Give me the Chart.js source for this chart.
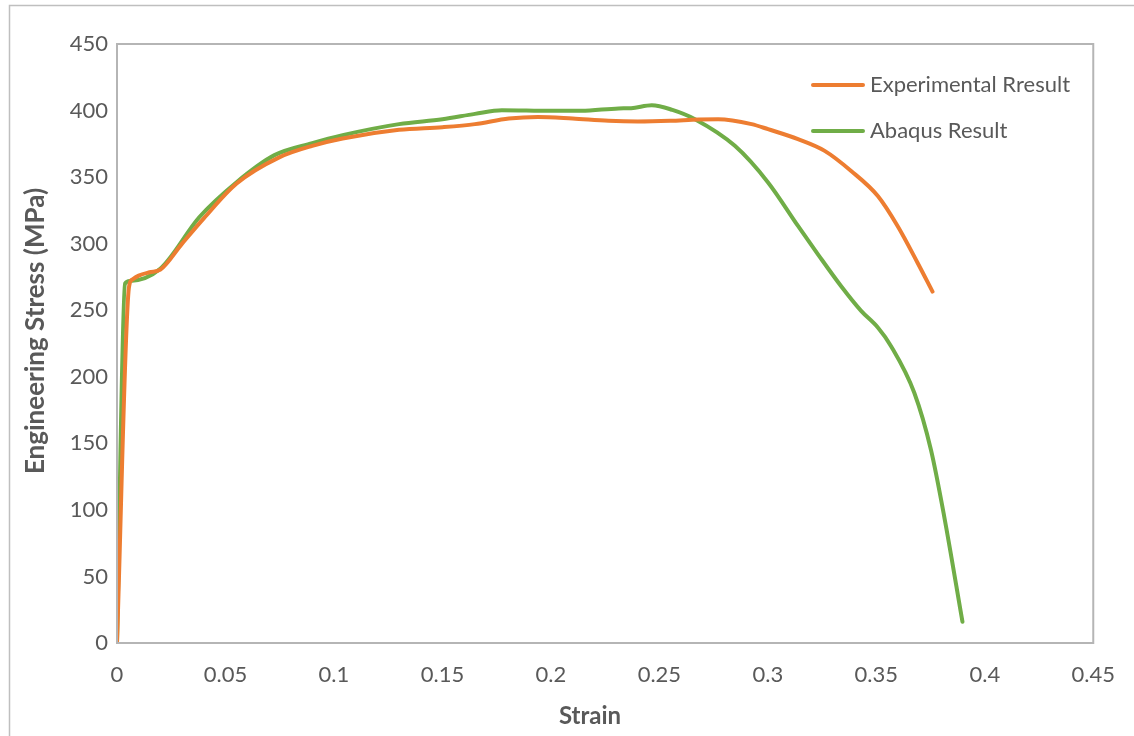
<!DOCTYPE html>
<html>
<head>
<meta charset="utf-8">
<title>Engineering stress-strain curves</title>
<script src="https://cdn.jsdelivr.net/npm/chart.js@4.4.1/dist/chart.umd.min.js"></script>
<style>
  html, body { margin: 0; padding: 0; background: #ffffff; }
  #wrap { width: 1134px; height: 736px; position: relative; }
</style>
</head>
<body>
<div id="wrap"><canvas id="chart" width="1134" height="736"></canvas></div>
<script>
// Experimental tensile test (strain, MPa)
const expStrain = [0, 0.0055, 0.007, 0.010, 0.015, 0.020, 0.030, 0.040, 0.055, 0.075, 0.090, 0.104, 0.130, 0.150, 0.165, 0.1806, 0.194, 0.210, 0.2266, 0.240, 0.255, 0.268, 0.2771, 0.2925, 0.3001, 0.3139, 0.3262, 0.3384, 0.3507, 0.3598, 0.369, 0.3759];
const expStress = [0, 267, 273, 276, 278.5, 280.5, 300, 319, 345, 365, 373.5, 379, 385.5, 387.5, 389.8, 394, 395.2, 394, 392.3, 391.8, 392.3, 393.3, 393.5, 389.8, 386, 378.5, 369.7, 354.6, 335.8, 313.3, 285.7, 264];

// Abaqus simulation (strain, MPa)
const abqStrain = [0, 0.0037, 0.006, 0.0198, 0.038, 0.055, 0.0726, 0.090, 0.104, 0.130, 0.150, 0.165, 0.1774, 0.200, 0.214, 0.2312, 0.237, 0.2465, 0.256, 0.2664, 0.2848, 0.3001, 0.3139, 0.3231, 0.3338, 0.343, 0.3507, 0.3568, 0.3675, 0.3752, 0.3813, 0.3897];
const abqStress = [0, 270, 272, 281, 320, 346, 366.5, 375.5, 381.5, 389.8, 393.5, 397.5, 400.3, 399.8, 399.8, 401.6, 401.8, 404, 400.5, 393.5, 373.5, 346, 313.3, 292, 268, 249.5, 237, 223, 188, 145, 95, 16];

const seriesNames = ['Experimental Rresult', 'Abaqus Result'];
const seriesColors = ['#ED7D31', '#70AD47'];

const xTickLabels = ['0', '0.05', '0.1', '0.15', '0.2', '0.25', '0.3', '0.35', '0.4', '0.45'];
const yTickLabels = ['0', '50', '100', '150', '200', '250', '300', '350', '400', '450'];

const xTitle = 'Strain';
const yTitle = 'Engineering Stress (MPa)';

const FONT = 'Lato, "Open Sans", sans-serif';
const TEXT = '#595959';
const FRAME = '#b5b5b5';

function pairs(xs, ys) {
  return xs.map((x, i) => ({ x: x, y: ys[i] }));
}

// Outer frame, plot box, axis titles and the in-plot legend
const decorations = {
  id: 'decorations',
  beforeDraw(chart) {
    const c = chart.ctx;
    c.save();
    c.fillStyle = '#ffffff';
    c.fillRect(0, 0, chart.width, chart.height);
    c.strokeStyle = '#bfbfbf';
    c.lineWidth = 1.5;
    c.beginPath();
    c.moveTo(9.5, chart.height);
    c.lineTo(9.5, 5.5);
    c.lineTo(chart.width, 5.5);
    c.stroke();
    c.restore();
  },
  afterDatasetsDraw(chart) {
    const c = chart.ctx;
    const a = chart.chartArea;
    c.save();
    c.strokeStyle = FRAME;
    c.lineWidth = 2;
    c.strokeRect(a.left, a.top, a.right - a.left, a.bottom - a.top);

    // axis titles
    c.fillStyle = TEXT;
    c.textAlign = 'center';
    c.textBaseline = 'middle';
    c.font = 'bold 24px ' + FONT;
    c.fillText(xTitle, 590, 716);
    c.font = 'bold 26px ' + FONT;
    c.translate(36, 331);
    c.rotate(-Math.PI / 2);
    c.fillText(yTitle, 0, 0);
    c.restore();

    // legend
    c.save();
    c.font = '22px ' + FONT;
    c.textAlign = 'left';
    c.textBaseline = 'middle';
    const rows = [85, 131];
    chart.data.datasets.forEach((ds, i) => {
      const y = rows[i];
      c.strokeStyle = ds.borderColor;
      c.lineWidth = 4;
      c.lineCap = 'round';
      c.beginPath();
      c.moveTo(813, y);
      c.lineTo(863, y);
      c.stroke();
      c.fillStyle = TEXT;
      c.fillText(ds.label, 870, y);
    });
    c.restore();
  }
};

new Chart(document.getElementById('chart'), {
  type: 'scatter',
  data: {
    datasets: [
      {
        label: seriesNames[0],
        data: pairs(expStrain, expStress),
        borderColor: seriesColors[0],
        backgroundColor: seriesColors[0],
        showLine: true,
        borderWidth: 4,
        pointRadius: 0,
        cubicInterpolationMode: 'monotone',
        borderCapStyle: 'round',
        borderJoinStyle: 'round'
      },
      {
        label: seriesNames[1],
        data: pairs(abqStrain, abqStress),
        borderColor: seriesColors[1],
        backgroundColor: seriesColors[1],
        showLine: true,
        borderWidth: 4,
        pointRadius: 0,
        cubicInterpolationMode: 'monotone',
        borderCapStyle: 'round',
        borderJoinStyle: 'round'
      }
    ]
  },
  options: {
    responsive: false,
    animation: false,
    layout: { padding: { left: 0, top: 44, right: 38, bottom: 0 } },
    plugins: {
      legend: { display: false },
      tooltip: { enabled: false }
    },
    scales: {
      x: {
        type: 'linear',
        min: 0,
        max: 0.45,
        grid: { display: false, drawTicks: false },
        border: { display: false },
        afterFit(scale) { scale.height = 93; },
        afterBuildTicks(scale) {
          scale.ticks = xTickLabels.map(t => ({ value: parseFloat(t) }));
        },
        ticks: {
          padding: 19,
          color: TEXT,
          font: { family: FONT, size: 22 },
          maxRotation: 0,
          autoSkip: false,
          callback: (v, i) => xTickLabels[i]
        }
      },
      y: {
        type: 'linear',
        min: 0,
        max: 450,
        grid: { display: false, drawTicks: false },
        border: { display: false },
        afterFit(scale) { scale.width = 117; },
        afterBuildTicks(scale) {
          scale.ticks = yTickLabels.map(t => ({ value: parseFloat(t) }));
        },
        ticks: {
          padding: 9,
          color: TEXT,
          font: { family: FONT, size: 22 },
          autoSkip: false,
          callback: (v, i) => yTickLabels[i]
        }
      }
    }
  },
  plugins: [decorations]
});
</script>
</body>
</html>
